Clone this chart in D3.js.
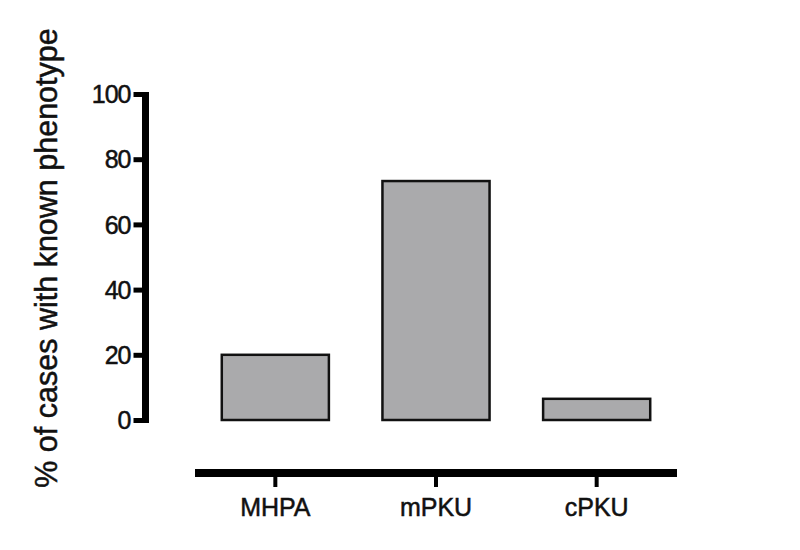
<!DOCTYPE html>
<html>
<head>
<meta charset="utf-8">
<script src="https://cdn.jsdelivr.net/npm/d3@7"></script>
<style>
  html, body { margin: 0; padding: 0; background: #fff; }
  svg { display: block; }
  text { font-family: "Liberation Sans", Arial, sans-serif; fill: #111; }
</style>
</head>
<body>
<svg id="chart" width="800" height="550"></svg>
<script>
const categories = ["MHPA", "mPKU", "cPKU"];
const values = [20, 73.3, 6.5];
const yTicks = [0, 20, 40, 60, 80, 100];
const yLabel = "% of cases with known phenotype";

const svg = d3.select("#chart");

const y = d3.scaleLinear().domain([0, 100]).range([420, 94]);
const x = d3.scaleBand().domain(categories).range([195, 677])
  .paddingInner(1/3).paddingOuter(1/6);

// bars
svg.append("g").selectAll("rect").data(categories).join("rect")
  .attr("x", d => x(d))
  .attr("width", x.bandwidth())
  .attr("y", (d, i) => y(values[i]))
  .attr("height", (d, i) => y(0) - y(values[i]))
  .attr("fill", "#aaaaac")
  .attr("stroke", "#111")
  .attr("stroke-width", 2.5);

// y axis
const yAxis = svg.append("g").attr("transform", "translate(145.5,0)")
  .call(d3.axisLeft(y).tickValues(yTicks).tickSize(12).tickSizeOuter(0).tickPadding(3));
yAxis.select(".domain").remove();
yAxis.append("line")
  .attr("x1", 0).attr("x2", 0)
  .attr("y1", y(0) + 3).attr("y2", y(100) - 2)
  .attr("stroke", "#000").attr("stroke-width", 7);
yAxis.selectAll(".tick line").attr("stroke", "#000").attr("stroke-width", 5);
yAxis.selectAll(".tick text")
  .attr("font-size", 25)
  .attr("letter-spacing", -1)
  .attr("fill", "#111")
  .attr("stroke", "#111").attr("stroke-width", 0.5)
  .attr("font-family", "'Liberation Sans', Arial, sans-serif")
  .attr("dy", "0.35em");

// x axis
const xAxis = svg.append("g").attr("transform", "translate(0,473)")
  .call(d3.axisBottom(x).tickSize(14).tickSizeOuter(0).tickPadding(11));
xAxis.select(".domain").remove();
xAxis.append("line")
  .attr("x1", 195).attr("x2", 677)
  .attr("y1", 0).attr("y2", 0)
  .attr("stroke", "#000").attr("stroke-width", 8);
xAxis.selectAll(".tick line").attr("stroke", "#000").attr("stroke-width", 4);
xAxis.selectAll(".tick text")
  .attr("font-size", 25)
  .attr("fill", "#111")
  .attr("stroke", "#111").attr("stroke-width", 0.5)
  .attr("font-family", "'Liberation Sans', Arial, sans-serif");

// y label
svg.append("text")
  .attr("transform", "translate(57,258) rotate(-90)")
  .attr("text-anchor", "middle")
  .attr("font-size", 30.5)
  .attr("stroke", "#111").attr("stroke-width", 0.5)
  .text(yLabel);
</script>
</body>
</html>
